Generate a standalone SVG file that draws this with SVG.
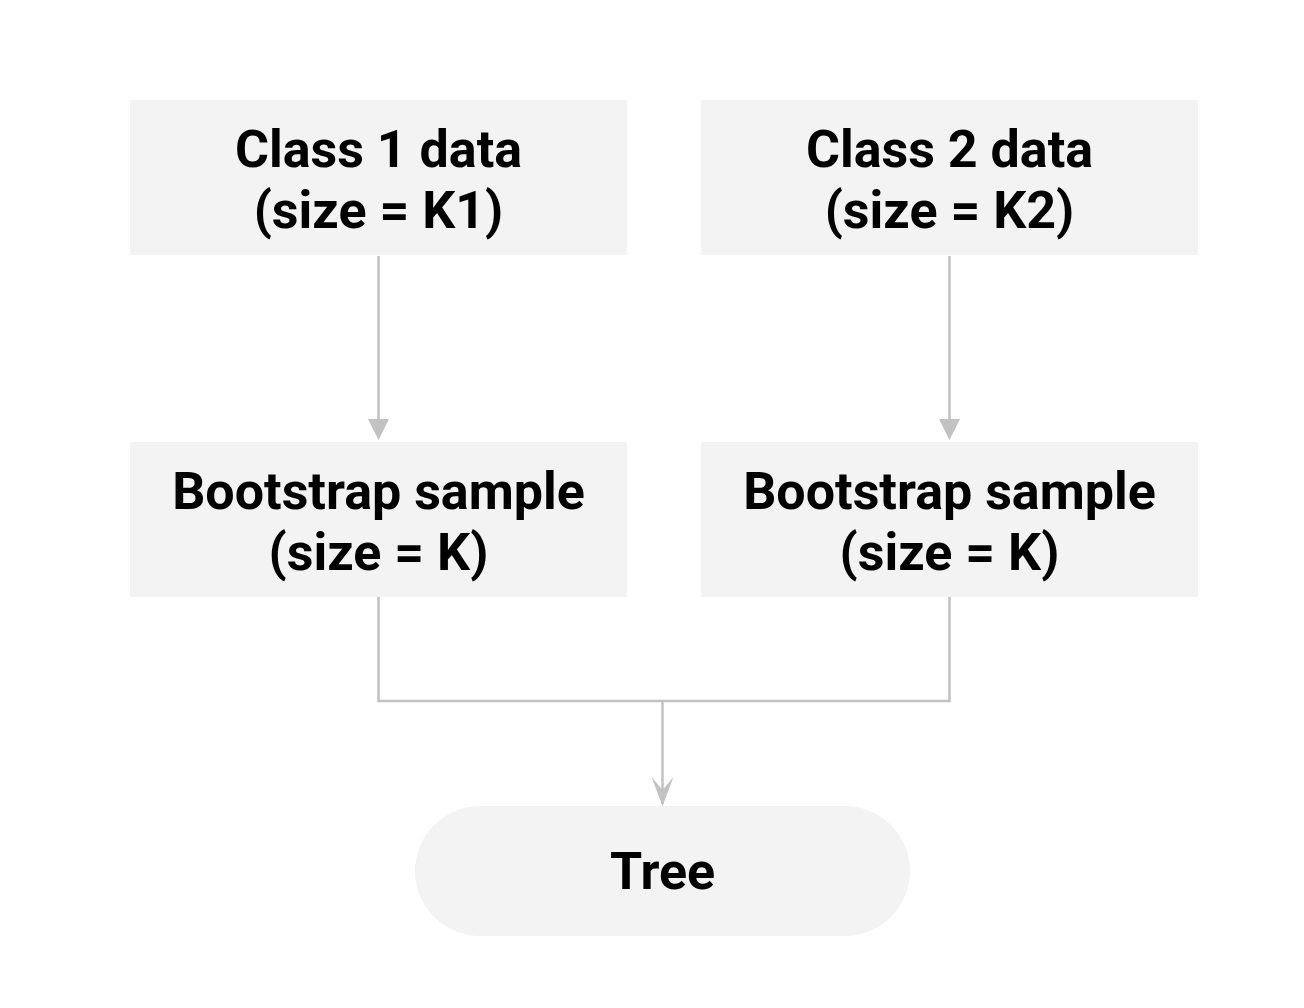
<svg xmlns="http://www.w3.org/2000/svg" width="1304" height="1008" viewBox="0 0 1304 1008">
<style>
.box{fill:#f3f3f3;}
.lbl{font-family:Roboto,"Liberation Sans",sans-serif;font-weight:700;font-size:52px;fill:#000;text-anchor:middle;}
.conn{fill:none;stroke:#c2c2c2;stroke-width:2.5;}
</style>
<defs>
<marker id="tri" markerUnits="userSpaceOnUse" viewBox="0 0 21 21" refX="19" refY="10.5" markerWidth="21" markerHeight="21" orient="auto">
<path d="M0,0 L21,10.5 L0,21 z" fill="#c2c2c2"/>
</marker>
<marker id="notch" markerUnits="userSpaceOnUse" viewBox="0 0 29 22" refX="27" refY="11" markerWidth="29" markerHeight="22" orient="auto">
<path d="M0,0 L29,11 L0,22 L13,11 z" fill="#c2c2c2"/>
</marker>
</defs>
<rect width="1304" height="1008" fill="#fff"/>
<g id="connectors">
<path class="conn" d="M378.5,256 V438" marker-end="url(#tri)"/>
<path class="conn" d="M949.5,256 V438" marker-end="url(#tri)"/>
<path class="conn" d="M378.5,597 V701 H949.5 V597"/>
<path class="conn" d="M662.5,701 V804" marker-end="url(#notch)"/>
</g>
<g id="class1">
<rect class="box" x="130" y="100" width="497" height="155"/>
<text class="lbl" x="378.5" y="167">Class 1 data</text>
<text class="lbl" x="378.5" y="228">(size = K1)</text>
</g>
<g id="class2">
<rect class="box" x="701" y="100" width="497" height="155"/>
<text class="lbl" x="949.5" y="167">Class 2 data</text>
<text class="lbl" x="949.5" y="228">(size = K2)</text>
</g>
<g id="boot1">
<rect class="box" x="130" y="442" width="497" height="155"/>
<text class="lbl" x="378.5" y="509">Bootstrap sample</text>
<text class="lbl" x="378.5" y="570">(size = K)</text>
</g>
<g id="boot2">
<rect class="box" x="701" y="442" width="497" height="155"/>
<text class="lbl" x="949.5" y="509">Bootstrap sample</text>
<text class="lbl" x="949.5" y="570">(size = K)</text>
</g>
<g id="tree">
<rect class="box" x="415" y="806" width="495" height="130" rx="65" ry="65"/>
<text class="lbl" x="662.5" y="889">Tree</text>
</g>
</svg>
